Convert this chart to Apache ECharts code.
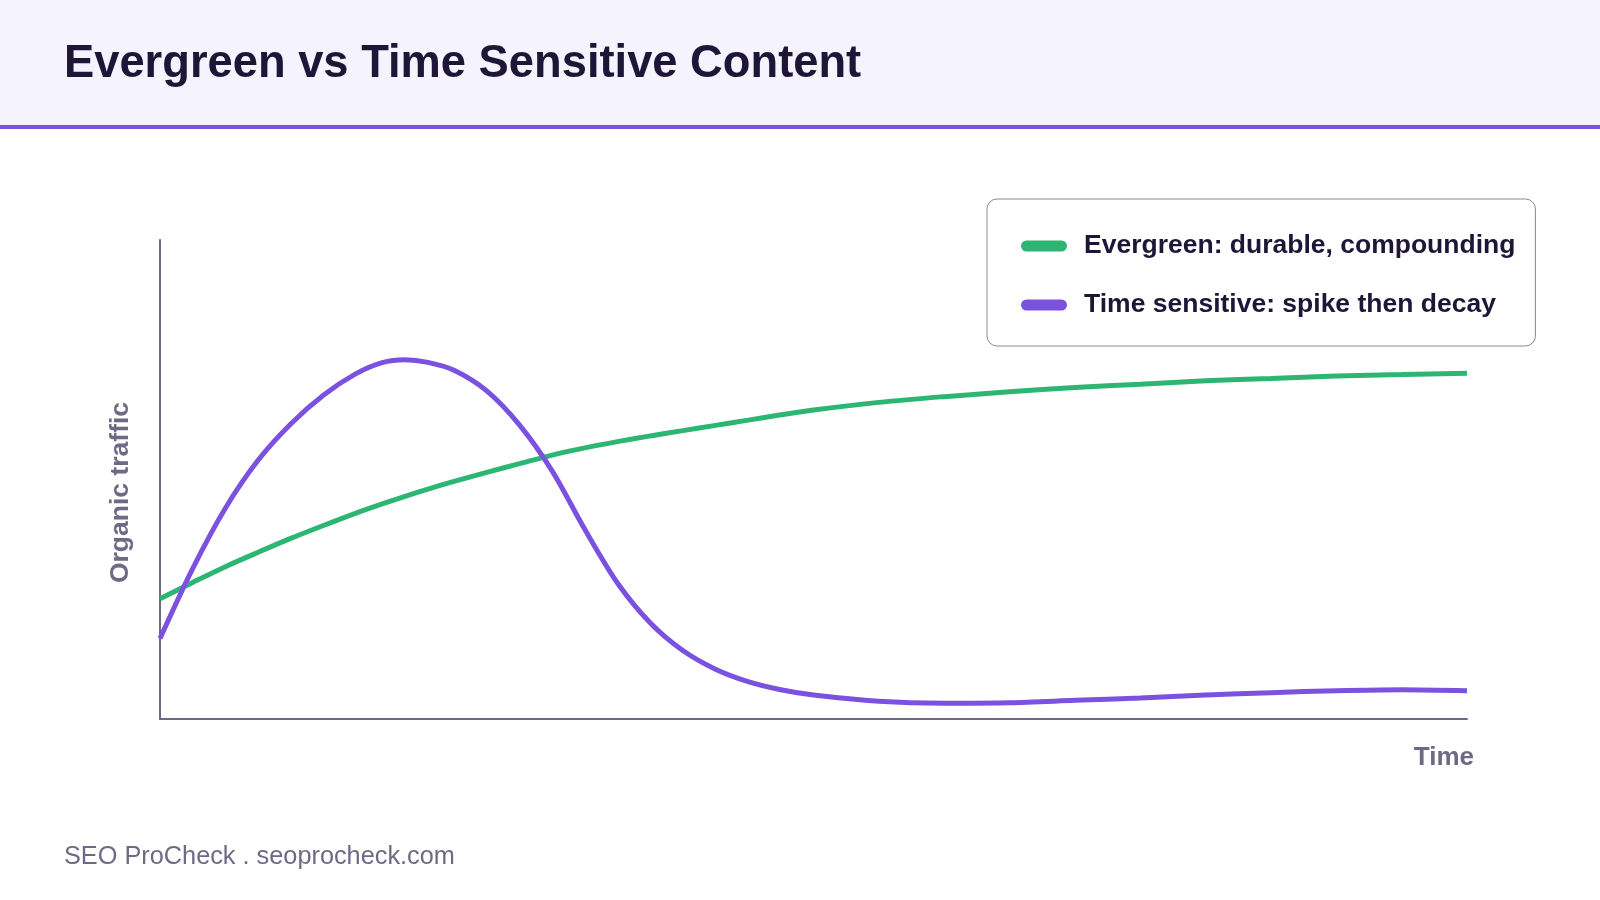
<!DOCTYPE html>
<html>
<head>
<meta charset="utf-8">
<title>Evergreen vs Time Sensitive Content</title>
<script src="https://cdn.jsdelivr.net/npm/echarts@6/dist/echarts.min.js"></script>
<style>
  html, body { margin: 0; padding: 0; background: #fff; }
  #chart { width: 1600px; height: 900px; }
</style>
</head>
<body>
<div id="chart"></div>
<script>
  // time position along the x axis (0 = publish, 100 = end of window)
  var timeX = [0, 2.5, 5, 7.5, 10, 12.5, 15, 17, 18.75, 20.5, 22.5, 25, 27.5, 30, 32.5, 35, 37.5, 40, 42.5, 45, 47.5, 50,
    55, 60, 65, 70, 75, 80, 85, 90, 95, 100]
  // organic traffic, relative units
  var evergreen = [25.1, 28.5, 31.8, 34.8, 37.7, 40.4, 43.0, 44.9, 46.5, 48.0, 49.6, 51.5, 53.3, 55.1, 56.6, 57.9, 59.1, 60.2, 61.3, 62.4, 63.5, 64.5,
    66.1, 67.3, 68.3, 69.2, 69.9, 70.6, 71.1, 71.6, 71.9, 72.2]
  var timeSensitive = [16.8, 31.4, 44.0, 54.0, 61.6, 67.6, 72.1, 74.4, 75.0, 74.45, 72.8, 68.5, 61.4, 51.8, 39.6, 28.4, 20.1, 14.3, 10.4, 7.8, 6.1, 5.0,
    3.7, 3.3, 3.4, 3.9, 4.4, 5.0, 5.5, 5.9, 6.1, 5.9]
  var seriesNames = ['Evergreen: durable, compounding', 'Time sensitive: spike then decay']

  var FONT = '"Liberation Sans", Arial, Helvetica, sans-serif'
  var AXIS_COLOR = '#6e6a85'
  var DARK = '#1e1636'

  function pairs (xs, ys) {
    return xs.map(function (x, i) { return [x, ys[i]] })
  }

  var chart = echarts.init(document.getElementById('chart'), null, { renderer: 'canvas' })

  chart.setOption({
    animation: false,
    backgroundColor: '#ffffff',
    color: ['#2db673', '#7b52e0'],
    graphic: [
      // header band + purple rule
      { type: 'rect', left: 0, top: 0, z: -10, shape: { width: 1600, height: 125 }, style: { fill: '#f5f3fe' } },
      { type: 'rect', left: 0, top: 125, z: -10, shape: { width: 1600, height: 4 }, style: { fill: '#7b52e0' } },
      {
        type: 'text', left: 64, top: 42,
        style: { text: 'Evergreen vs Time Sensitive Content', font: 'bold 45.3px ' + FONT, fill: DARK }
      },
      {
        type: 'text', left: 64, top: 845,
        style: { text: 'SEO ProCheck . seoprocheck.com', font: '25.3px ' + FONT, fill: AXIS_COLOR }
      }
    ],
    legend: {
      left: 987,
      top: 199,
      orient: 'vertical',
      data: seriesNames,
      icon: 'path://M5.5,0 L40.5,0 A5.5,5.5 0 0 1 40.5,11 L5.5,11 A5.5,5.5 0 0 1 5.5,0 Z',
      itemWidth: 46,
      itemHeight: 11,
      itemGap: 27,
      padding: [31, 20, 25, 34],
      borderColor: '#8a8699',
      borderWidth: 1,
      borderRadius: 10,
      backgroundColor: '#ffffff',
      selectedMode: false,
      textStyle: {
        fontFamily: FONT,
        fontSize: 26.5,
        fontWeight: 'bold',
        color: DARK,
        lineHeight: 32,
        padding: [0, 0, 0, 12]
      }
    },
    grid: {
      left: 160,
      right: 133,
      top: 240,
      bottom: 181,
      containLabel: false
    },
    xAxis: {
      type: 'value',
      min: 0,
      max: 100,
      name: 'Time',
      nameLocation: 'end',
      nameGap: 7,
      nameTextStyle: {
        fontFamily: FONT,
        fontSize: 26,
        fontWeight: 'bold',
        color: AXIS_COLOR,
        align: 'right',
        verticalAlign: 'top',
        padding: [26, 0, 0, 0]
      },
      axisLine: { show: true, lineStyle: { color: AXIS_COLOR, width: 2 } },
      axisTick: { show: false },
      axisLabel: { show: false },
      splitLine: { show: false }
    },
    yAxis: {
      type: 'value',
      min: 0,
      max: 100,
      name: 'Organic traffic',
      nameLocation: 'middle',
      nameGap: 26,
      nameTextStyle: {
        fontFamily: FONT,
        fontSize: 26.5,
        fontWeight: 'bold',
        color: AXIS_COLOR,
        padding: [0, 26, 0, 0]
      },
      axisLine: { show: true, lineStyle: { color: AXIS_COLOR, width: 2 } },
      axisTick: { show: false },
      axisLabel: { show: false },
      splitLine: { show: false }
    },
    series: [
      {
        name: seriesNames[0],
        type: 'line',
        smooth: 0.3,
        showSymbol: false,
        symbol: 'none',
        lineStyle: { width: 5 },
        data: pairs(timeX, evergreen)
      },
      {
        name: seriesNames[1],
        type: 'line',
        smooth: 0.3,
        showSymbol: false,
        symbol: 'none',
        lineStyle: { width: 5 },
        data: pairs(timeX, timeSensitive)
      }
    ]
  })
</script>
</body>
</html>
